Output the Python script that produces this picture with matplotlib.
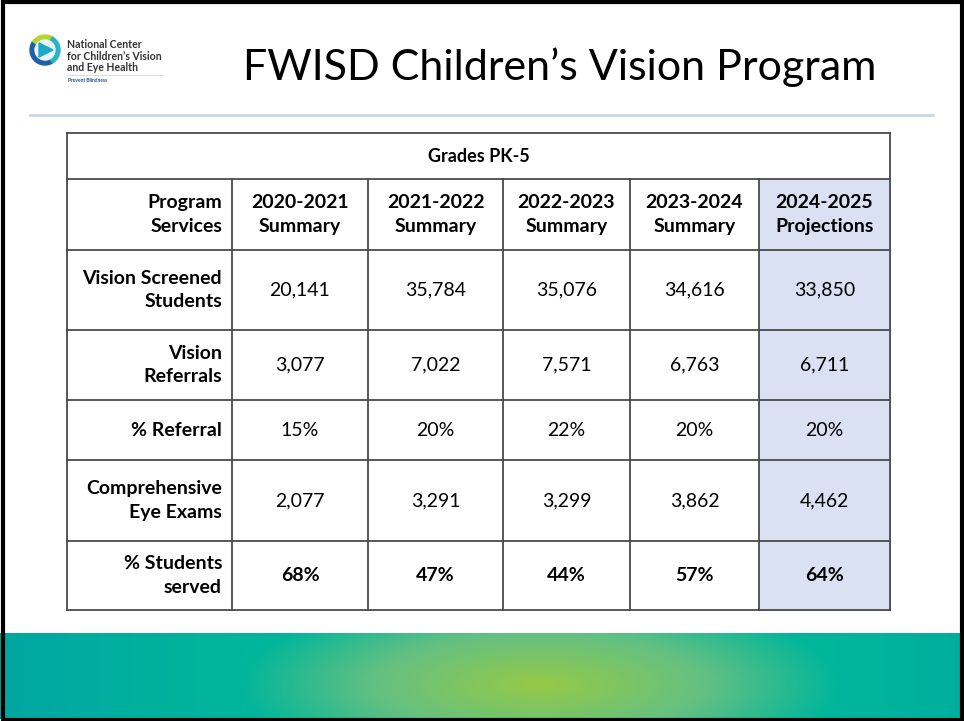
import numpy as np
import matplotlib.pyplot as plt
from matplotlib.patches import Rectangle, Wedge, Circle, Polygon

plt.rcParams['font.family'] = ['Lato', 'DejaVu Sans']

# table content
table_title = 'Grades PK-5'
first_header = 'Program\nServices'
years = ['2020-2021', '2021-2022', '2022-2023', '2023-2024', '2024-2025']
kinds = ['Summary', 'Summary', 'Summary', 'Summary', 'Projections']
row_labels = ['Vision Screened\nStudents', 'Vision\nReferrals', '% Referral',
              'Comprehensive\nEye Exams', '% Students\nserved']
screened = [20141, 35784, 35076, 34616, 33850]
referrals = [3077, 7022, 7571, 6763, 6711]
pct_referral = [15, 20, 22, 20, 20]
eye_exams = [2077, 3291, 3299, 3862, 4462]
pct_served = [68, 47, 44, 57, 64]

rows = [
    ['{:,}'.format(v) for v in screened],
    ['{:,}'.format(v) for v in referrals],
    ['{}%'.format(v) for v in pct_referral],
    ['{:,}'.format(v) for v in eye_exams],
    ['{}%'.format(v) for v in pct_served],
]
bold_rows = [False, False, False, False, True]

# layout (pixels)
W, H = 964, 721
col_edges = [67, 232, 368, 503, 630, 759, 890]
row_edges = [133, 179, 250, 330, 400, 460, 541, 610]
line_col = '#4a4a4a'
proj_fill = '#d9e1f2'
fs = 14
ls = 1.45

fig = plt.figure(figsize=(W / 100, H / 100), dpi=100)
ax = fig.add_axes([0, 0, 1, 1])
ax.set_xlim(0, W)
ax.set_ylim(H, 0)
ax.axis('off')

# bottom gradient band
band_top, band_bot = 633, 719
xx, yy = np.meshgrid(np.linspace(0, W, 400), np.linspace(band_top, band_bot, 60))
t = np.sqrt(((xx - 540) / 300) ** 2 + ((yy - 685) / 95) ** 2)
t = np.clip(t, 0, 1)
green = np.array([150, 202, 70]) / 255
mid = np.array([100, 192, 130]) / 255
teal_near = np.array([0, 182, 155]) / 255
teal_far = np.array([0, 166, 162]) / 255
img = np.zeros(xx.shape + (3,))
for k in range(3):
    inner = np.where(t < 0.55, green[k] + (mid[k] - green[k]) * (t / 0.55),
                     mid[k] + (teal_near[k] - mid[k]) * ((t - 0.55) / 0.45))
    img[..., k] = inner
far = np.clip((np.abs(xx - 540) - 300) / 250, 0, 1)
outside = t >= 1
for k in range(3):
    img[..., k] = np.where(outside, teal_near[k] + (teal_far[k] - teal_near[k]) * far, img[..., k])
ax.imshow(img, extent=(0, W, band_bot, band_top), aspect='auto', zorder=0,
          interpolation='bilinear')
ax.set_xlim(0, W)
ax.set_ylim(H, 0)

# slide frame
ax.add_patch(Rectangle((2.5, 1.5), W - 5, H - 3, fill=False, ec='black', lw=3, zorder=10))

# separator line under title
ax.plot([30, 933], [115, 115], color='#c5d9ea', lw=2, zorder=1)

# title
ax.text(560, 67, "FWISD Children\u2019s Vision Program", fontsize=31, ha='center',
        va='center', color='black')

# logo
cx, cy = 45, 50
ax.add_patch(Wedge((cx, cy), 15, 60, 215, width=5, color='#1f5fa8'))
ax.add_patch(Wedge((cx, cy), 15, 215, 300, width=5, color='#b5d334'))
ax.add_patch(Wedge((cx, cy), 15, 300, 420, width=5, color='#25b5c8'))
ax.add_patch(Circle((cx, cy), 10, color='#e9f6f8'))
ax.add_patch(Polygon([[cx - 6, cy - 7], [cx - 6, cy + 7], [cx + 8, cy]], closed=True,
                     color='#1aa9c7'))
ax.text(67, 56, 'National Center\nfor Children\u2019s Vision\nand Eye Health', fontsize=7.6,
        fontweight='bold', color='#333333', va='center', ha='left', linespacing=1.05)
ax.plot([67, 163], [75, 75], color='#dddddd', lw=0.8)
ax.text(68, 80, 'Prevent Blindness', fontsize=3.5, fontweight='bold', color='#1f4e8c',
        va='center', ha='left')

# projections column fill
ax.add_patch(Rectangle((col_edges[5], row_edges[1]), col_edges[6] - col_edges[5],
                       row_edges[-1] - row_edges[1], color=proj_fill, zorder=1))

# grid lines
for y in row_edges:
    ax.plot([col_edges[0], col_edges[-1]], [y, y], color=line_col, lw=1.3, zorder=2)
ax.plot([col_edges[0]] * 2, [row_edges[0], row_edges[-1]], color=line_col, lw=1.3, zorder=2)
ax.plot([col_edges[-1]] * 2, [row_edges[0], row_edges[-1]], color=line_col, lw=1.3, zorder=2)
for x in col_edges[1:-1]:
    ax.plot([x, x], [row_edges[1], row_edges[-1]], color=line_col, lw=1.3, zorder=2)

# table title row
ax.text((col_edges[0] + col_edges[-1]) / 2, (row_edges[0] + row_edges[1]) / 2, table_title,
        fontsize=fs - 1, fontweight='bold', ha='center', va='center', zorder=3)

# header row
hy = (row_edges[1] + row_edges[2]) / 2
ax.text(col_edges[1] - 10, hy, first_header, fontsize=fs, fontweight='bold', ha='right',
        va='center', multialignment='right', linespacing=ls, zorder=3)
for i, (yr, kd) in enumerate(zip(years, kinds)):
    x = (col_edges[i + 1] + col_edges[i + 2]) / 2
    ax.text(x, hy, yr + '\n' + kd, fontsize=fs, fontweight='bold', ha='center',
            va='center', linespacing=ls, zorder=3)

# body rows
for r, (label, vals) in enumerate(zip(row_labels, rows)):
    y = (row_edges[r + 2] + row_edges[r + 3]) / 2
    ax.text(col_edges[1] - 10, y, label, fontsize=fs, fontweight='bold', ha='right',
            va='center', multialignment='right', linespacing=ls, zorder=3)
    for i, v in enumerate(vals):
        x = (col_edges[i + 1] + col_edges[i + 2]) / 2
        ax.text(x, y, v, fontsize=fs, fontweight='bold' if bold_rows[r] else 'normal',
                ha='center', va='center', zorder=3)

fig.savefig('out.png', dpi=100)
